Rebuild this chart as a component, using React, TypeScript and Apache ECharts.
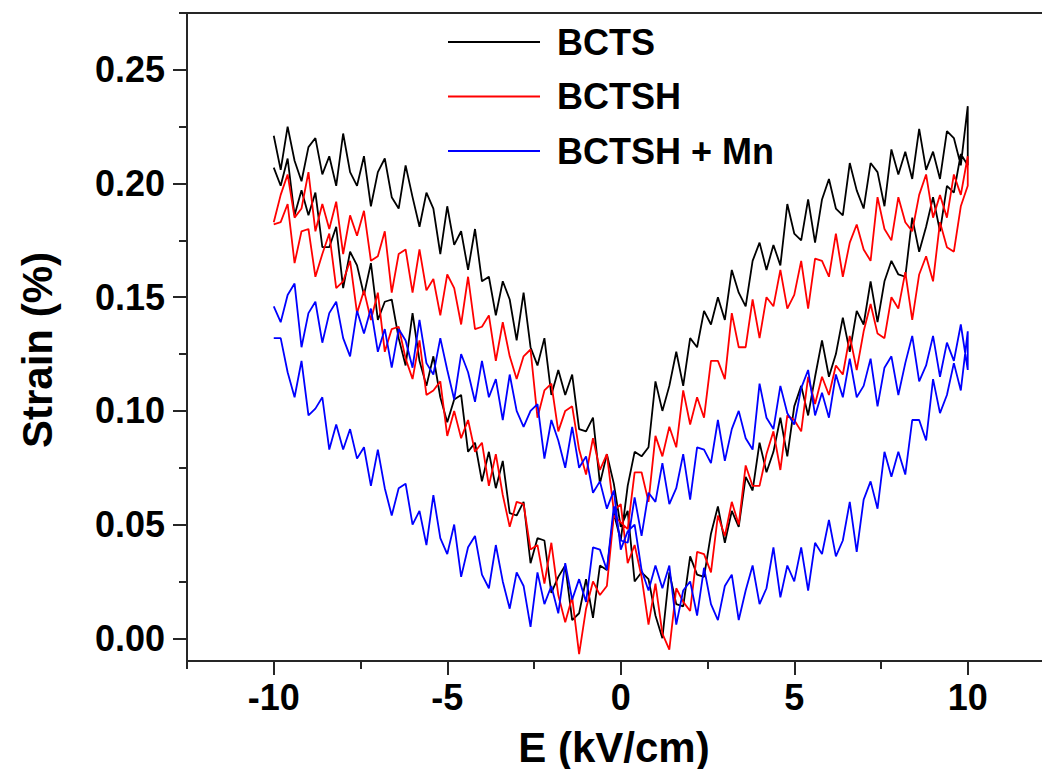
import React, { useEffect, useRef } from "react";
import * as echarts from "echarts";

// Electric field grid (kV/cm) shared by every sweep
const E_FIELD = [
  -10, -9.8, -9.6, -9.4, -9.2, -9, -8.8, -8.6, -8.4, -8.2,
  -8, -7.8, -7.6, -7.4, -7.2, -7, -6.8, -6.6, -6.4, -6.2,
  -6, -5.8, -5.6, -5.4, -5.2, -5, -4.8, -4.6, -4.4, -4.2,
  -4, -3.8, -3.6, -3.4, -3.2, -3, -2.8, -2.6, -2.4, -2.2,
  -2, -1.8, -1.6, -1.4, -1.2, -1, -0.8, -0.6, -0.4, -0.2,
  0, 0.2, 0.4, 0.6, 0.8, 1, 1.2, 1.4, 1.6, 1.8,
  2, 2.2, 2.4, 2.6, 2.8, 3, 3.2, 3.4, 3.6, 3.8,
  4, 4.2, 4.4, 4.6, 4.8, 5, 5.2, 5.4, 5.6, 5.8,
  6, 6.2, 6.4, 6.6, 6.8, 7, 7.2, 7.4, 7.6, 7.8,
  8, 8.2, 8.4, 8.6, 8.8, 9, 9.2, 9.4, 9.6, 9.8,
  10,
];

// Strain (%) on the rising sweep (-10 -> +10) and falling sweep (+10 -> -10), listed by ascending E
const BCTS_UP = [
  0.221, 0.206, 0.225, 0.21, 0.201, 0.216, 0.22, 0.204, 0.212, 0.199,
  0.222, 0.205, 0.199, 0.212, 0.19, 0.205, 0.211, 0.194, 0.189, 0.208,
  0.194, 0.181, 0.196, 0.189, 0.169, 0.19, 0.173, 0.179, 0.162, 0.18,
  0.157, 0.159, 0.142, 0.157, 0.149, 0.131, 0.152, 0.128, 0.12, 0.132,
  0.107, 0.118, 0.107, 0.116, 0.092, 0.091, 0.097, 0.068, 0.081, 0.068,
  0.049, 0.056, 0.025, 0.029, 0.026, 0.01, 0.0, 0.029, 0.015, 0.014,
  0.036, 0.028, 0.027, 0.046, 0.058, 0.042, 0.056, 0.049, 0.071, 0.065,
  0.086, 0.073, 0.082, 0.097, 0.08, 0.102, 0.111, 0.098, 0.115, 0.131,
  0.115, 0.125, 0.141, 0.126, 0.144, 0.138, 0.157, 0.139, 0.157, 0.166,
  0.16, 0.159, 0.185, 0.17, 0.181, 0.194, 0.179, 0.199, 0.196, 0.213,
  0.208,
];
const BCTS_DOWN = [
  0.207, 0.199, 0.211, 0.186, 0.197, 0.186, 0.196, 0.172, 0.172, 0.181,
  0.154, 0.17, 0.164, 0.151, 0.165, 0.14, 0.148, 0.149, 0.132, 0.12,
  0.143, 0.122, 0.111, 0.124, 0.106, 0.095, 0.105, 0.107, 0.082, 0.086,
  0.069, 0.082, 0.066, 0.078, 0.055, 0.054, 0.06, 0.033, 0.044, 0.043,
  0.02, 0.027, 0.032, 0.008, 0.011, 0.026, 0.009, 0.032, 0.03, 0.055,
  0.043, 0.067, 0.082, 0.08, 0.084, 0.113, 0.1, 0.111, 0.126, 0.111,
  0.132, 0.128, 0.144, 0.138, 0.15, 0.14, 0.162, 0.152, 0.146, 0.166,
  0.174, 0.162, 0.173, 0.164, 0.191, 0.178, 0.175, 0.193, 0.174, 0.193,
  0.202, 0.189, 0.186, 0.209, 0.197, 0.189, 0.209, 0.205, 0.19, 0.215,
  0.204, 0.214, 0.202, 0.224, 0.206, 0.214, 0.202, 0.223, 0.22, 0.208,
  0.234,
];
const BCTSH_UP = [
  0.183, 0.195, 0.204, 0.185, 0.189, 0.205, 0.179, 0.191, 0.18, 0.192,
  0.169, 0.186, 0.177, 0.188, 0.166, 0.168, 0.179, 0.152, 0.169, 0.171,
  0.152, 0.171, 0.153, 0.158, 0.142, 0.16, 0.154, 0.138, 0.159, 0.136,
  0.137, 0.142, 0.122, 0.139, 0.124, 0.114, 0.124, 0.127, 0.097, 0.109,
  0.112, 0.091, 0.1, 0.102, 0.083, 0.072, 0.088, 0.074, 0.081, 0.056,
  0.059, 0.033, 0.041, 0.027, 0.006, 0.024, 0.002, -0.005, 0.022, 0.016,
  0.012, 0.038, 0.037, 0.029, 0.054, 0.045, 0.06, 0.05, 0.076, 0.067,
  0.067, 0.081, 0.091, 0.074, 0.098, 0.096, 0.091, 0.115, 0.103, 0.115,
  0.107, 0.12, 0.116, 0.133, 0.118, 0.135, 0.147, 0.134, 0.132, 0.15,
  0.145, 0.161, 0.14, 0.16, 0.168, 0.157, 0.183, 0.172, 0.17, 0.19,
  0.199,
];
const BCTSH_DOWN = [
  0.182, 0.183, 0.191, 0.165, 0.179, 0.18, 0.159, 0.169, 0.178, 0.154,
  0.157, 0.166, 0.143, 0.153, 0.14, 0.152, 0.126, 0.136, 0.137, 0.123,
  0.114, 0.131, 0.107, 0.109, 0.113, 0.089, 0.1, 0.088, 0.096, 0.082,
  0.086, 0.067, 0.081, 0.063, 0.049, 0.06, 0.059, 0.039, 0.041, 0.024,
  0.042, 0.019, 0.007, 0.018, -0.007, 0.013, 0.025, 0.019, 0.023, 0.054,
  0.051, 0.048, 0.073, 0.073, 0.06, 0.089, 0.08, 0.093, 0.084, 0.109,
  0.094, 0.106, 0.097, 0.122, 0.122, 0.114, 0.143, 0.128, 0.128, 0.149,
  0.132, 0.15, 0.146, 0.162, 0.145, 0.151, 0.166, 0.145, 0.167, 0.166,
  0.159, 0.178, 0.159, 0.174, 0.182, 0.171, 0.166, 0.194, 0.18, 0.175,
  0.194, 0.183, 0.179, 0.195, 0.204, 0.185, 0.195, 0.185, 0.204, 0.195,
  0.212,
];
const BCTSH_MN_UP = [
  0.146, 0.139, 0.151, 0.156, 0.128, 0.143, 0.148, 0.13, 0.143, 0.148,
  0.132, 0.124, 0.144, 0.134, 0.145, 0.126, 0.136, 0.119, 0.136, 0.131,
  0.119, 0.14, 0.121, 0.116, 0.132, 0.118, 0.105, 0.125, 0.117, 0.104,
  0.122, 0.106, 0.114, 0.096, 0.116, 0.1, 0.093, 0.1, 0.103, 0.079,
  0.096, 0.087, 0.075, 0.093, 0.075, 0.08, 0.064, 0.069, 0.057, 0.065,
  0.039, 0.047, 0.05, 0.03, 0.021, 0.032, 0.022, 0.032, 0.006, 0.021,
  0.025, 0.01, 0.031, 0.015, 0.008, 0.023, 0.028, 0.008, 0.021, 0.032,
  0.015, 0.022, 0.04, 0.018, 0.032, 0.025, 0.04, 0.021, 0.042, 0.037,
  0.052, 0.036, 0.043, 0.06, 0.038, 0.061, 0.069, 0.057, 0.082, 0.071,
  0.082, 0.072, 0.096, 0.096, 0.087, 0.114, 0.099, 0.107, 0.121, 0.109,
  0.135,
];
const BCTSH_MN_DOWN = [
  0.132, 0.132, 0.117, 0.106, 0.122, 0.098, 0.101, 0.106, 0.083, 0.094,
  0.083, 0.092, 0.079, 0.084, 0.067, 0.083, 0.066, 0.054, 0.066, 0.068,
  0.05, 0.056, 0.041, 0.063, 0.044, 0.037, 0.05, 0.027, 0.04, 0.045,
  0.028, 0.022, 0.041, 0.025, 0.013, 0.029, 0.023, 0.005, 0.029, 0.015,
  0.023, 0.011, 0.033, 0.017, 0.026, 0.016, 0.04, 0.039, 0.03, 0.058,
  0.043, 0.042, 0.062, 0.045, 0.064, 0.06, 0.077, 0.059, 0.066, 0.081,
  0.061, 0.084, 0.083, 0.077, 0.096, 0.078, 0.092, 0.1, 0.088, 0.083,
  0.112, 0.097, 0.092, 0.111, 0.099, 0.094, 0.11, 0.118, 0.098, 0.108,
  0.097, 0.116, 0.106, 0.123, 0.106, 0.111, 0.123, 0.102, 0.119, 0.124,
  0.107, 0.121, 0.133, 0.113, 0.12, 0.133, 0.115, 0.13, 0.122, 0.138,
  0.118,
];

const SERIES_NAMES = ["BCTS", "BCTSH", "BCTSH + Mn"];
const SERIES_COLORS = ["#000000", "#ff0000", "#0000ff"];

const X_TICKS = [-10, -5, 0, 5, 10];
const X_MINOR = [-12.5, -7.5, -2.5, 2.5, 7.5, 12.5];
const Y_TICKS = [0, 0.05, 0.1, 0.15, 0.2, 0.25];
const Y_MINOR = [0.025, 0.075, 0.125, 0.175, 0.225, 0.275];

const FONT = "'Liberation Sans', Arial, Helvetica, sans-serif";
const AXIS_COLOR = "#262626";

function loop(up: number[], down: number[]) {
  const rising = E_FIELD.map((e, i) => [e, up[i]]);
  const falling = E_FIELD.map((e, i) => [e, down[i]]).reverse();
  return rising.concat(falling);
}

export default function App() {
  const ref = useRef<HTMLDivElement>(null);

  useEffect(() => {
    if (!ref.current) return;
    const chart = echarts.init(ref.current, null, { renderer: "svg" });
    const lineStyle = { color: AXIS_COLOR, width: 2 };
    const xBase = { type: "value", min: -12.5, max: 12.5, splitLine: { show: false } };
    const yBase = { type: "value", min: -0.01, max: 0.275, splitLine: { show: false } };
    const loops = [
      loop(BCTS_UP, BCTS_DOWN),
      loop(BCTSH_UP, BCTSH_DOWN),
      loop(BCTSH_MN_UP, BCTSH_MN_DOWN),
    ];
    chart.setOption({
      animation: false,
      grid: { left: 187, top: 13, width: 867.5, height: 648, containLabel: false },
      xAxis: [
        {
          ...xBase,
          position: "bottom",
          axisLine: { show: true, onZero: false, lineStyle },
          axisTick: { show: true, customValues: X_TICKS, length: 14, lineStyle },
          axisLabel: {
            show: true,
            customValues: X_TICKS,
            formatter: (v: number) => String(v),
            fontSize: 36,
            fontWeight: "bold",
            fontFamily: FONT,
            color: "#000",
            margin: 18,
          },
        },
        {
          ...xBase,
          position: "bottom",
          axisLine: { show: false, onZero: false },
          axisTick: { show: true, customValues: X_MINOR, length: 8, lineStyle },
          axisLabel: { show: false },
        },
        {
          ...xBase,
          position: "top",
          axisLine: { show: true, onZero: false, lineStyle },
          axisTick: { show: false },
          axisLabel: { show: false },
        },
      ],
      yAxis: [
        {
          ...yBase,
          position: "left",
          axisLine: { show: true, onZero: false, lineStyle },
          axisTick: { show: true, customValues: Y_TICKS, length: 14, lineStyle },
          axisLabel: {
            show: true,
            customValues: Y_TICKS,
            formatter: (v: number) => v.toFixed(2),
            fontSize: 36,
            fontWeight: "bold",
            fontFamily: FONT,
            color: "#000",
            margin: 22,
          },
        },
        {
          ...yBase,
          position: "left",
          axisLine: { show: false, onZero: false },
          axisTick: { show: true, customValues: Y_MINOR, length: 8, lineStyle },
          axisLabel: { show: false },
        },
      ],
      legend: {
        orient: "vertical",
        left: 443,
        top: 19,
        icon: "rect",
        itemWidth: 92,
        itemHeight: 2,
        itemGap: 18.5,
        data: SERIES_NAMES,
        textStyle: {
          fontSize: 36,
          fontWeight: "bold",
          fontFamily: FONT,
          color: "#000",
          lineHeight: 36,
          padding: [0, 0, 0, 12],
        },
      },
      graphic: [
        {
          type: "text",
          x: 614,
          y: 747,
          style: {
            text: "E (kV/cm)",
            fontSize: 42,
            fontWeight: "bold",
            fontFamily: FONT,
            fill: "#000",
            align: "center",
            verticalAlign: "middle",
          },
        },
        {
          type: "text",
          x: 37,
          y: 350,
          rotation: Math.PI / 2,
          style: {
            text: "Strain (%)",
            fontSize: 42,
            fontWeight: "bold",
            fontFamily: FONT,
            fill: "#000",
            align: "center",
            verticalAlign: "middle",
          },
        },
      ],
      series: SERIES_NAMES.map((name, k) => ({
        name,
        type: "line",
        xAxisIndex: 0,
        yAxisIndex: 0,
        data: loops[k],
        showSymbol: false,
        symbol: "none",
        lineStyle: { color: SERIES_COLORS[k], width: 1.8 },
        itemStyle: { color: SERIES_COLORS[k] },
        clip: true,
        z: 2 + k,
      })),
    });
    return () => chart.dispose();
  }, []);

  return (
    <div
      style={{
        position: "absolute",
        left: 0,
        top: 0,
        width: 1042,
        height: 769,
        overflow: "hidden",
        background: "#fff",
      }}
    >
      <div ref={ref} style={{ width: 1060, height: 769 }} />
    </div>
  );
}
